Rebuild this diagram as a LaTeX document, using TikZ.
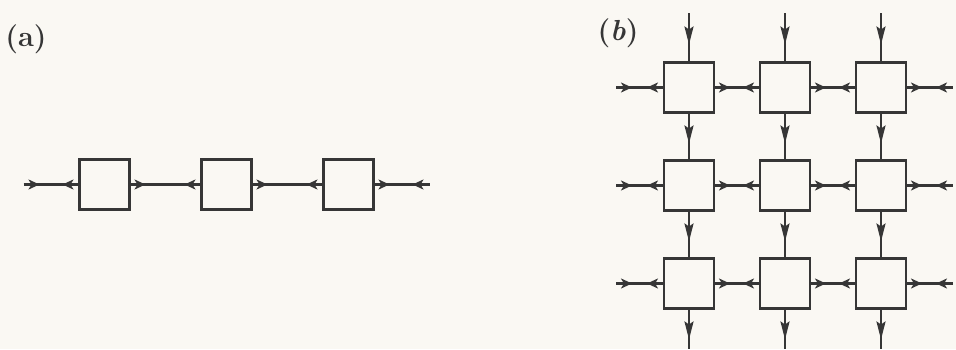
\documentclass[tikz,border=0pt]{standalone}
\usepackage{xcolor}
\usepackage{tikz}
\usetikzlibrary{positioning, arrows.meta, decorations.markings}

\definecolor{ink}{HTML}{363636}
\definecolor{paper}{HTML}{FAF8F3}

\tikzset{
  cell/.style={draw=ink, fill=paper, line width=2.4pt, minimum size=50pt, inner sep=0pt, outer sep=0pt},
  link/.style={draw=ink, line width=2.2pt, postaction={decorate}, decoration={markings,
      mark=at position 16pt with {\arrow{>}},
      mark=at position -17pt with {\arrowreversed{>}}}},
  feed/.style={draw=ink, line width=2.2pt, postaction={decorate}, decoration={markings,
      mark=at position 31pt with {\arrow{Stealth[length=18pt, width=9pt, inset=3pt]}}}},
  tag/.style={font=\fontsize{29}{34}\selectfont\bfseries, text=ink, inner sep=0pt},
}

\begin{document}
\begin{tikzpicture}[x=1pt, y=1pt, >={Stealth[length=11pt, width=10pt, inset=3pt]}]
  \fill[paper] (0,0) rectangle (956,349);
  \useasboundingbox (0,0) rectangle (956,349);

  % (a) linear array
  \node[tag] (la) at (26,310) {(a)};
  \node[cell] (a1) at (104.5,164.5) {};
  \node[cell, right=72pt of a1] (a2) {};
  \node[cell, right=72pt of a2] (a3) {};
  \coordinate[left=56pt of a1] (ain);
  \coordinate[right=56pt of a3] (aout);
  \path (ain) edge[link] (a1)
        (a1) edge[link] (a2)
        (a2) edge[link] (a3)
        (a3) edge[link] (aout);

  % (b) mesh
  \node[tag] (lb) at (618,316) {(\textit{b})};
  \node[cell] (b11) at (689,261.5) {};
  \node[cell, right=46pt of b11] (b12) {};
  \node[cell, right=46pt of b12] (b13) {};
  \node[cell, below=48pt of b11] (b21) {};
  \node[cell, right=46pt of b21] (b22) {};
  \node[cell, right=46pt of b22] (b23) {};
  \node[cell, below=48pt of b21] (b31) {};
  \node[cell, right=46pt of b31] (b32) {};
  \node[cell, right=46pt of b32] (b33) {};
%
  \foreach \i in {1,2,3} {
    \coordinate[left=48pt of b\i1] (w\i);
    \coordinate[right=47pt of b\i3] (e\i);
    \coordinate[above=49pt of b1\i] (n\i);
    \coordinate[below=40pt of b3\i] (s\i);
  }
  \foreach \i in {1,2,3} {
    \path (w\i) edge[link] (b\i1)
          (b\i1) edge[link] (b\i2)
          (b\i2) edge[link] (b\i3)
          (b\i3) edge[link] (e\i);
    \path (n\i) edge[feed] (b1\i)
          (b1\i) edge[feed] (b2\i)
          (b2\i) edge[feed] (b3\i)
          (b3\i) edge[feed] (s\i);
  }
\end{tikzpicture}
\end{document}
